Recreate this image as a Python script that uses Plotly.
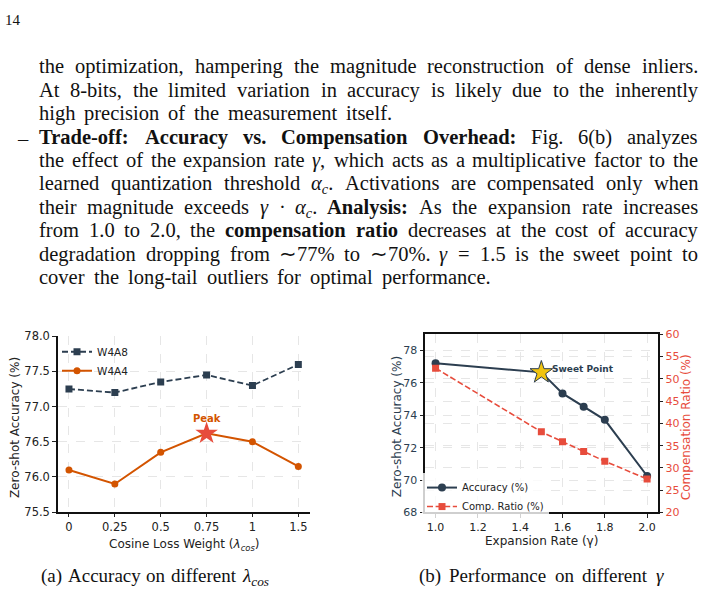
import re
import html as _html
import plotly.graph_objects as go

W, H = 703, 611

# ---------------- data ----------------
lam_labels = ["0", "0.25", "0.5", "0.75", "1", "1.5"]
w4a8 = [77.25, 77.20, 77.35, 77.45, 77.30, 77.60]
w4a4 = [76.10, 75.90, 76.35, 76.62, 76.50, 76.15]
peak_idx = 3

gamma = [1.0, 1.5, 1.6, 1.7, 1.8, 2.0]
accuracy = [77.22, 76.65, 75.35, 74.52, 73.72, 70.25]
comp_ratio = [52.4, 38.1, 35.9, 33.7, 31.5, 27.5]
sweet_idx = 1

left_yticks = [75.5, 76.0, 76.5, 77.0, 77.5, 78.0]
right_xticks = [1.0, 1.2, 1.4, 1.6, 1.8, 2.0]
acc_ticks = [68, 70, 72, 74, 76, 78]
ratio_ticks = [20, 25, 30, 35, 40, 45, 50, 55, 60]

# ---------------- colours ----------------
NAVY = "#2c3e50"
ORANGE = "#d35400"
RED = "#e74c3c"
GOLD = "#f1c40f"
GRID = "#e6e6e6"

SANS = "DejaVu Sans"
SERIF = "Liberation Serif"


def px_x(p):
    return p / W


def px_y(p):
    return 1 - p / H


fig = go.Figure()

# ---------------- left chart ----------------
fig.add_trace(go.Scatter(
    x=lam_labels, y=w4a8, mode="lines+markers", name="W4A8",
    line=dict(color=NAVY, width=1.8, dash="6px,3px"),
    marker=dict(symbol="square", size=7, color=NAVY),
    xaxis="x", yaxis="y", legend="legend"))
fig.add_trace(go.Scatter(
    x=lam_labels, y=w4a4, mode="lines+markers", name="W4A4",
    line=dict(color=ORANGE, width=2),
    marker=dict(symbol="circle", size=7, color=ORANGE),
    xaxis="x", yaxis="y", legend="legend"))
fig.add_trace(go.Scatter(
    x=[lam_labels[peak_idx]], y=[w4a4[peak_idx]], mode="markers",
    marker=dict(symbol="star", size=17, color=RED, line=dict(width=0)),
    showlegend=False, xaxis="x", yaxis="y"))

# ---------------- right chart ----------------
fig.add_trace(go.Scatter(
    x=gamma, y=accuracy, mode="lines+markers", name="Accuracy (%)",
    line=dict(color=NAVY, width=2),
    marker=dict(symbol="circle", size=8, color=NAVY),
    xaxis="x2", yaxis="y2", legend="legend2"))
fig.add_trace(go.Scatter(
    x=gamma, y=comp_ratio, mode="lines+markers", name="Comp. Ratio (%)",
    line=dict(color=RED, width=1.6, dash="6px,2.6px"),
    marker=dict(symbol="square", size=7, color=RED),
    xaxis="x2", yaxis="y3", legend="legend2"))
fig.add_trace(go.Scatter(
    x=[gamma[sweet_idx]], y=[accuracy[sweet_idx]], mode="markers",
    marker=dict(symbol="star", size=17, color=GOLD, line=dict(width=1, color=NAVY)),
    showlegend=False, xaxis="x2", yaxis="y2"))

# domains (px)
L_x0, L_x1, L_y0, L_y1 = 57.5, 309.8, 337.0, 517.0
R_x0, R_x1, R_y0, R_y1 = 425.0, 657.7, 335.0, 517.3

axis_common = dict(showgrid=True, gridcolor=GRID, griddash="dash", gridwidth=0.8,
                   zeroline=False, ticks="outside", ticklen=3.5, tickwidth=1,
                   tickcolor="#222", showline=True, linecolor="#111")

fig.update_layout(
    width=W, height=H, margin=dict(l=0, r=0, t=0, b=0),
    paper_bgcolor="white", plot_bgcolor="white",
    font=dict(family=SANS, color="#222"),
    xaxis=dict(axis_common, type="category", range=[-0.25, 5.25], linewidth=1.5,
               domain=[px_x(L_x0), px_x(L_x1)], anchor="y",
               tickfont=dict(size=11.5, color="#222")),
    yaxis=dict(axis_common, range=[75.5, 78.0], tickvals=left_yticks, tickformat=".1f",
               linewidth=1.5, domain=[px_y(L_y1), px_y(L_y0)], anchor="x",
               tickfont=dict(size=11.5, color="#222")),
    xaxis2=dict(axis_common, range=[0.95, 2.05], tickvals=right_xticks, tickformat=".1f",
                linewidth=2, mirror=True, domain=[px_x(R_x0), px_x(R_x1)], anchor="y2",
                tickfont=dict(size=11, color="#222")),
    yaxis2=dict(axis_common, range=[68, 79], tickvals=acc_ticks, linewidth=2,
                domain=[px_y(R_y1), px_y(R_y0)], anchor="x2",
                tickfont=dict(size=11, color=NAVY)),
    yaxis3=dict(axis_common, range=[20, 60], tickvals=ratio_ticks, linewidth=2,
                overlaying="y2", side="right", anchor="x2",
                tickfont=dict(size=11, color=RED)),
    legend=dict(x=px_x(57), y=px_y(338), xanchor="left", yanchor="top",
                bgcolor="rgba(255,255,255,0)", font=dict(size=10.5, color="#222"),
                itemwidth=30, tracegroupgap=0),
    legend2=dict(x=px_x(422), y=px_y(477), xanchor="left", yanchor="top",
                 bgcolor="rgba(255,255,255,0.8)", font=dict(size=10, color="#222"),
                 itemwidth=30, tracegroupgap=0),
)

ann = []
# chart annotations
ann.append(dict(x=peak_idx, y=w4a4[peak_idx], xref="x", yref="y",
                text="<b>Peak</b>", showarrow=False, yshift=15,
                xanchor="center", yanchor="middle",
                font=dict(family=SANS, size=10, color=ORANGE)))
ann.append(dict(x=gamma[sweet_idx], y=accuracy[sweet_idx], xref="x2", yref="y2",
                text="<b>Sweet Point</b>", showarrow=False, xanchor="left", yanchor="middle",
                xshift=9, yshift=3, font=dict(family=SANS, size=9, color=NAVY)))


def label(x, y, text, color, angle=0, size=12, yanchor="middle"):
    ann.append(dict(x=px_x(x), y=px_y(y), xref="paper", yref="paper", text=text,
                    textangle=angle, showarrow=False, xanchor="center", yanchor=yanchor,
                    font=dict(family=SANS, size=size, color=color)))


# axis titles
label(15, 431, "Zero-shot Accuracy (%)", "#222", angle=-90)
label(183.6, 540, "Cosine Loss Weight (<i>λ<sub>cos</sub></i>)", "#222", yanchor="top")
label(397, 430, "Zero-shot Accuracy (%)", NAVY, angle=-90)
label(686, 430, "Compensation Ratio (%)", RED, angle=-90)
label(541.3, 547, "Expansion Rate (γ)", "#222")

# ---------------- body text ----------------
REG = {' ': 250, '%': 833, '(': 333, ')': 333, ',': 250, '-': 333, '.': 250, ':': 278,
       '=': 564, '·': 250, '∼': 838, '–': 500, 'γ': 430, 'α': 520, 'λ': 500,
       'A': 722, 'B': 667, 'C': 667, 'D': 722, 'E': 611, 'F': 556, 'G': 722, 'H': 722,
       'I': 333, 'J': 389, 'K': 722, 'L': 611, 'M': 889, 'N': 722, 'O': 722, 'P': 556,
       'Q': 722, 'R': 667, 'S': 556, 'T': 611, 'U': 722, 'V': 722, 'W': 944, 'X': 722,
       'Y': 722, 'Z': 611, 'a': 444, 'b': 500, 'c': 444, 'd': 500, 'e': 444, 'f': 333,
       'g': 500, 'h': 500, 'i': 278, 'j': 278, 'k': 500, 'l': 278, 'm': 778, 'n': 500,
       'o': 500, 'p': 500, 'q': 500, 'r': 333, 's': 389, 't': 278, 'u': 500, 'v': 500,
       'w': 722, 'x': 500, 'y': 500, 'z': 444}
for d in "0123456789":
    REG[d] = 500
BOLD = dict(REG)
BOLD.update({'%': 1000, ':': 333, 'A': 722, 'C': 722, 'E': 667, 'F': 611, 'G': 778,
             'H': 778, 'I': 389, 'O': 778, 'P': 611, 'R': 722, 'T': 667,
             'a': 500, 'b': 556, 'd': 556, 'h': 556, 'k': 556, 'm': 833, 'n': 556,
             'p': 556, 'q': 556, 'r': 444, 't': 333, 'u': 556})


def measure(htm, size):
    bold, sub, w = False, 0, 0.0
    for tok in re.split(r"(<[^>]+>)", htm):
        if tok.startswith("<"):
            t = tok.lower()
            if t == "<b>":
                bold = True
            elif t == "</b>":
                bold = False
            elif t == "<sub>":
                sub += 1
            elif t == "</sub>":
                sub -= 1
            continue
        for ch in _html.unescape(tok):
            tbl = BOLD if bold else REG
            w += tbl.get(ch, 500) / 1000 * size * (0.7 if sub else 1)
    return w


def B(s):
    return ["<b>%s</b>" % w for w in s.split()]


BODY = 20.5
lines = [
    ("the optimization, hampering the magnitude reconstruction of dense inliers.".split(), 64, 38, 697),
    ("At 8-bits, the limited variation in accuracy is likely due to the inherently".split(), 88, 38, 697),
    ("high precision of the measurement itself.".split(), 112, 38, 391),
    (B("Trade-off: Accuracy vs. Compensation Overhead:") + "Fig. 6(b) analyzes".split(), 136, 38, 697),
    ("the effect of the expansion rate <i>γ</i>, which acts as a multiplicative factor to the".split(), 160, 38, 697),
    ("learned quantization threshold <i>α<sub>c</sub></i>. Activations are compensated only when".split(), 184, 38, 697),
    ("their magnitude exceeds <i>γ</i> · <i>α<sub>c</sub></i>.".split() + B("Analysis:") + "As the expansion rate increases".split(), 208, 38, 697),
    ("from 1.0 to 2.0, the".split() + B("compensation ratio") + "decreases at the cost of accuracy".split(), 232, 38, 697),
    ("degradation dropping from ∼77% to ∼70%. <i>γ</i> = 1.5 is the sweet point to".split(), 256, 38, 697),
    ("cover the long-tail outliers for optimal performance.".split(), 280, 38, 490),
]


def place_line(words, yc, x0, x1, size):
    widths = [measure(w, size) for w in words]
    gap = (x1 - x0 - sum(widths)) / max(len(words) - 1, 1)
    x = x0
    for w, wd in zip(words, widths):
        ann.append(dict(x=px_x(x), y=px_y(yc - 0.62 * size - 3), xref="paper", yref="paper",
                        xanchor="left", yanchor="top", text=w, showarrow=False,
                        borderpad=0, font=dict(family=SERIF, size=size, color="#111")))
        x += wd + gap


for words, yc, x0, x1 in lines:
    place_line(words, yc, x0, x1, BODY)

# list dash and page number
ann.append(dict(x=px_x(23), y=px_y(135), xref="paper", yref="paper", text="–",
                xanchor="center", yanchor="middle",
                showarrow=False, font=dict(family=SERIF, size=BODY, color="#111")))
ann.append(dict(x=px_x(13), y=px_y(13), xref="paper", yref="paper", text="14",
                xanchor="center", yanchor="middle",
                showarrow=False, font=dict(family=SERIF, size=15, color="#111")))

# captions
CAP = 19
place_line("(a) Accuracy on different <i>λ<sub>cos</sub></i>".split(), 585, 40, 268, CAP)
place_line("(b) Performance on different <i>γ</i>".split(), 585, 418, 663, CAP)

fig.update_layout(annotations=ann)
fig.write_html("out.html")
